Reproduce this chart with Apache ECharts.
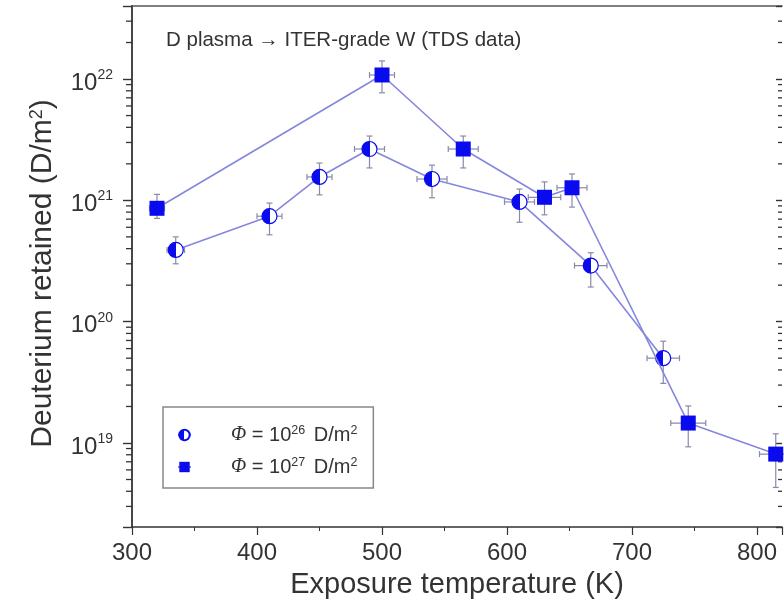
<!DOCTYPE html>
<html>
<head>
<meta charset="utf-8">
<script src="https://cdn.jsdelivr.net/npm/echarts@6/dist/echarts.min.js"></script>
<style>
html,body{margin:0;padding:0;background:#fff;}
#chart{width:784px;height:613px;}
</style>
</head>
<body>
<div id="chart"></div>
<script>
// ---- data ----
const tempCircle = [335, 410, 450, 490, 540, 610, 667, 725];
const valCircle  = [3.9e20, 7.4e20, 1.56e21, 2.65e21, 1.5e21, 9.7e20, 2.9e20, 5.0e19];
const loCircle   = [3.0e20, 5.2e20, 1.11e21, 1.85e21, 1.05e21, 6.6e20, 1.93e20, 3.1e19];
const hiCircle   = [5.0e20, 9.5e20, 2.03e21, 3.39e21, 1.95e21, 1.24e21, 3.7e20, 6.9e19];
const xErrCircle = [7, 10, 10, 12, 12, 12, 13, 13];

const tempSquare = [320, 500, 565, 630, 652, 745, 815];
const valSquare  = [8.6e20, 1.08e22, 2.65e21, 1.06e21, 1.27e21, 1.46e19, 8.1e18];
const loSquare   = [7.1e20, 7.7e21, 1.85e21, 7.6e20, 8.8e20, 9.3e18, 4.3e18];
const hiSquare   = [1.12e21, 1.41e22, 3.39e21, 1.42e21, 1.65e21, 2.02e19, 1.19e19];
const xErrSquare = [6, 10, 12, 13, 12, 14, 13];

const xTicks = [300, 400, 500, 600, 700, 800];
const minorMantissas = [2, 3, 4, 5, 6, 7, 8, 9];
const minorDecades = [18, 19, 20, 21, 22];

const titleText = 'D plasma \u2192 ITER-grade W (TDS data)';
const xName = 'Exposure temperature (K)';
const yName = 'Deuterium retained (D/m{s|2})';
const seriesNames = ['phi26', 'phi27'];
const legendLabels = {
  phi26: '{p|\u03A6}{t| = 10}{s|26}{d| D/m}{s|2}',
  phi27: '{p|\u03A6}{t| = 10}{s|27}{d| D/m}{s|2}'
};

// ---- chart ----
const X_MIN = 300, X_MAX = 820;
const Y_MIN = 2.03e18, Y_MAX = 4.0e22;
const BLUE = '#0a0aee';
const LINE = '#8587dc';
const ERR = '#8a8aa8';
const TXT = '#333333';

const minorTickValues = [];
minorDecades.forEach(d => minorMantissas.forEach(m => {
  const v = m * Math.pow(10, d);
  if (v > Y_MIN && v < Y_MAX) minorTickValues.push(v);
}));

function errData(t, v, lo, hi, xe) {
  return t.map((x, i) => [x, v[i], lo[i], hi[i], xe[i]]);
}

function renderErr(params, api) {
  const x = api.value(0), y = api.value(1), lo = api.value(2), hi = api.value(3), xe = api.value(4);
  const pLo = api.coord([x, lo]);
  const pHi = api.coord([x, hi]);
  const pL = api.coord([x - xe, y]);
  const pR = api.coord([x + xe, y]);
  const cap = 3;
  const style = { stroke: ERR, lineWidth: 1.2, fill: null };
  const mk = (x1, y1, x2, y2) => ({ type: 'line', shape: { x1, y1, x2, y2 }, style });
  return {
    type: 'group',
    children: [
      mk(pLo[0], pLo[1], pHi[0], pHi[1]),
      mk(pLo[0] - cap, pLo[1], pLo[0] + cap, pLo[1]),
      mk(pHi[0] - cap, pHi[1], pHi[0] + cap, pHi[1]),
      mk(pL[0], pL[1], pR[0], pR[1]),
      mk(pL[0], pL[1] - cap, pL[0], pL[1] + cap),
      mk(pR[0], pR[1] - cap, pR[0], pR[1] + cap)
    ]
  };
}

function renderMinor(params, api) {
  const v = api.value(0);
  const pl = api.coord([X_MIN, v]);
  const pr = api.coord([X_MAX, v]);
  const style = { stroke: '#333', lineWidth: 1.3 };
  return {
    type: 'group',
    children: [
      { type: 'line', shape: { x1: pl[0] - 6, y1: pl[1], x2: pl[0], y2: pl[1] }, style },
      { type: 'line', shape: { x1: pr[0] - 4, y1: pr[1], x2: pr[0], y2: pr[1] }, style }
    ]
  };
}

const halfFill = new echarts.graphic.LinearGradient(0, 0, 1, 0, [
  { offset: 0, color: BLUE }, { offset: 0.5, color: BLUE },
  { offset: 0.5, color: '#ffffff' }, { offset: 1, color: '#ffffff' }
]);

const chart = echarts.init(document.getElementById('chart'), null, { renderer: 'canvas' });
const supRich = {
  b: { fontSize: 24, lineHeight: 28, padding: [8, 0, 0, 0], color: TXT, fontFamily: 'Liberation Sans' },
  s: { fontSize: 14, lineHeight: 16, padding: [3, 0, 0, 0], verticalAlign: 'top', color: TXT, fontFamily: 'Liberation Sans' }
};

chart.setOption({
  animation: false,
  backgroundColor: '#ffffff',
  textStyle: { fontFamily: 'Liberation Sans' },
  title: {
    text: titleText,
    left: 161, top: 25,
    textStyle: { fontSize: 20.5, fontWeight: 'normal', color: TXT, fontFamily: 'Liberation Sans' }
  },
  grid: { left: 132, right: 2, top: 6, bottom: 86 },
  legend: {
    data: seriesNames,
    orient: 'vertical',
    left: 163, top: 407,
    padding: [17, 16, 11, 14],
    itemGap: 11,
    itemWidth: 13, itemHeight: 13,
    borderColor: '#888', borderWidth: 1.5,
    backgroundColor: '#fff',
    selectedMode: false,
    formatter: n => legendLabels[n],
    textStyle: {
      padding: [0, 0, 0, 35],
      color: TXT,
      rich: {
        p: { fontSize: 20, fontStyle: 'italic', color: TXT, lineHeight: 22, fontFamily: 'Liberation Serif' },
        t: { fontSize: 20, color: TXT, lineHeight: 22, fontFamily: 'Liberation Sans' },
        d: { fontSize: 20, color: TXT, lineHeight: 22, padding: [0, 0, 0, 3], fontFamily: 'Liberation Sans' },
        s: { fontSize: 12.5, color: TXT, lineHeight: 13, verticalAlign: 'top', fontFamily: 'Liberation Sans' }
      }
    }
  },
  xAxis: [{
    type: 'value', min: X_MIN, max: X_MAX, interval: 100,
    name: xName, nameLocation: 'middle', nameGap: 43,
    nameTextStyle: { fontSize: 29, color: TXT, fontFamily: 'Liberation Sans' },
    axisLine: { show: true, lineStyle: { color: '#333', width: 1.6 } },
    axisTick: { show: true, length: 8, lineStyle: { color: '#333', width: 1.2 } },
    minorTick: { show: true, splitNumber: 2, length: 4, lineStyle: { color: '#333', width: 1 } },
    axisLabel: {
      fontSize: 24, color: TXT, margin: 14, showMaxLabel: false,
      formatter: v => (xTicks.indexOf(v) >= 0 ? String(v) : '')
    },
    splitLine: { show: false }
  }, {
    type: 'value', position: 'top', min: X_MIN, max: X_MAX, interval: 100,
    axisLine: { show: true, lineStyle: { color: '#555', width: 1.6 } },
    axisTick: { show: false }, axisLabel: { show: false }, splitLine: { show: false }
  }],
  yAxis: [{
    type: 'log', logBase: 10, min: Y_MIN, max: Y_MAX,
    name: yName, nameLocation: 'middle', nameGap: 74, nameRotate: 90,
    nameTextStyle: {
      fontSize: 30, color: TXT, fontFamily: 'Liberation Sans', padding: [0, 14, 0, 0],
      rich: {
        s: { fontSize: 18, lineHeight: 16, verticalAlign: 'top', color: TXT, fontFamily: 'Liberation Sans' }
      }
    },
    axisLine: { show: true, lineStyle: { color: '#333', width: 1.8 } },
    axisTick: { show: true, length: 9, lineStyle: { color: '#333', width: 1.4 } },
    axisLabel: {
      margin: 19, color: TXT,
      formatter: v => {
        const l = Math.log10(v), e = Math.round(l);
        if (Math.abs(l - e) > 1e-6) return '';
        return '{b|10}{s|' + e + '}';
      },
      rich: supRich
    },
    splitLine: { show: false }
  }, {
    type: 'log', logBase: 10, min: Y_MIN, max: Y_MAX, position: 'right',
    axisLine: { show: false },
    axisTick: { show: true, inside: true, length: 6, lineStyle: { color: '#333', width: 1.4 } },
    axisLabel: { show: false }, splitLine: { show: false }
  }],
  series: [
    {
      type: 'custom', name: 'minor', silent: true, clip: false, z: 1,
      renderItem: renderMinor,
      data: minorTickValues.map(v => [v])
    },
    {
      type: 'custom', name: 'errC', silent: true, z: 2,
      renderItem: renderErr,
      encode: { x: 0, y: 1 },
      data: errData(tempCircle, valCircle, loCircle, hiCircle, xErrCircle)
    },
    {
      type: 'custom', name: 'errS', silent: true, z: 2,
      renderItem: renderErr,
      encode: { x: 0, y: 1 },
      data: errData(tempSquare, valSquare, loSquare, hiSquare, xErrSquare)
    },
    {
      type: 'line', name: 'phi26', z: 3,
      data: tempCircle.map((t, i) => [t, valCircle[i]]),
      symbol: 'circle', symbolSize: 15,
      itemStyle: { color: halfFill, borderColor: BLUE, borderWidth: 1.2 },
      lineStyle: { color: LINE, width: 1.6 },
      silent: true
    },
    {
      type: 'line', name: 'phi27', z: 4,
      data: tempSquare.map((t, i) => [t, valSquare[i]]),
      symbol: 'rect', symbolSize: 15,
      itemStyle: { color: BLUE, borderColor: BLUE, borderWidth: 0 },
      lineStyle: { color: LINE, width: 1.6 },
      silent: true
    }
  ]
});
</script>
</body>
</html>
